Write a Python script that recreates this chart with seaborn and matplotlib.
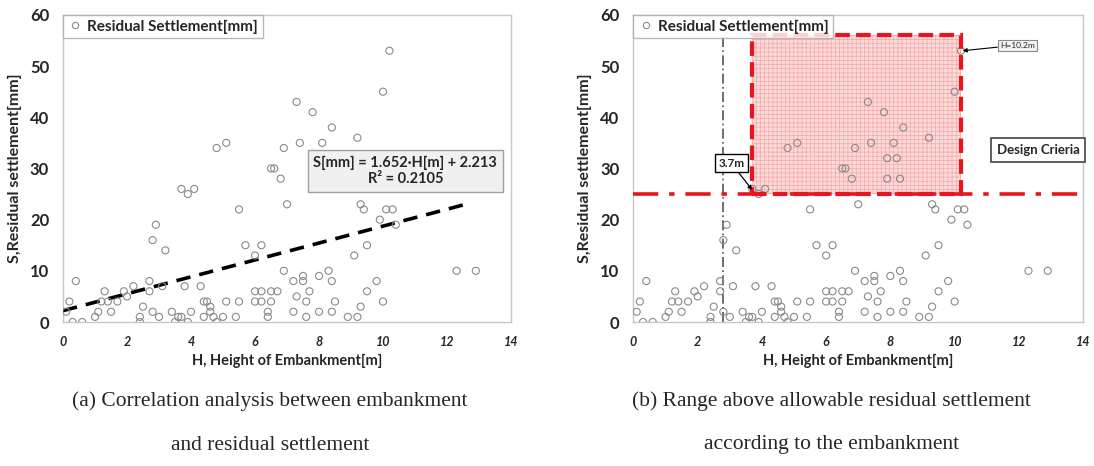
import numpy as np
import pandas as pd
import matplotlib
matplotlib.use("Agg")
import matplotlib.pyplot as plt
from matplotlib.patches import Rectangle
from matplotlib.lines import Line2D
import seaborn as sns

# embankment height [m] / residual settlement [mm]
HEIGHT = [0.1, 0.2, 0.3, 0.4, 0.6, 1.0, 1.1, 1.2, 1.3, 1.4, 1.5, 1.7, 1.9, 2.0, 2.2,
          2.4, 2.4, 2.5, 2.7, 2.7, 2.8, 2.8, 2.9, 3.0, 3.1, 3.2, 3.4, 3.5, 3.6, 3.7,
          3.7, 3.8, 3.9, 3.9, 4.0, 4.1, 4.3, 4.4, 4.4, 4.5, 4.6, 4.6, 4.7, 4.8, 4.8,
          5.0, 5.1, 5.1, 5.4, 5.5, 5.5, 5.7,
          6.0, 6.0, 6.0, 6.2, 6.2, 6.2, 6.4, 6.4, 6.5, 6.5, 6.7, 6.5, 6.6, 6.8,
          6.9, 6.9, 7.0, 7.2, 7.2, 7.3, 7.3, 7.4, 7.5, 7.5, 7.6, 7.6, 7.7, 7.8,
          7.9, 7.9, 8.0, 8.0, 8.1, 8.2, 8.3, 8.3, 8.4, 8.4, 8.4, 8.5, 8.9, 9.1,
          9.2, 9.2, 9.3, 9.4, 9.3, 9.5, 9.5, 9.8, 9.9, 10.0, 10.0, 10.1, 10.3,
          10.2, 10.4, 12.3, 12.9]
SETTLE = [2, 4, 0, 8, 0, 1, 2, 4, 6, 4, 2, 4, 6, 5, 7,
          1, 0, 3, 8, 6, 16, 2, 19, 1, 7, 14, 2, 0, 1, 1,
          26, 7, 25, 0, 2, 26, 7, 4, 1, 4, 3, 2, 1, 0, 34,
          1, 4, 35, 1, 4, 22, 15,
          13, 6, 4, 6, 4, 15, 2, 1, 6, 4, 6, 30, 30, 28,
          34, 10, 23, 8, 2, 5, 43, 35, 9, 8, 4, 1, 6, 41,
          32, 28, 9, 2, 35, 32, 10, 28, 8, 2, 38, 4, 1, 13,
          1, 36, 23, 22, 3, 6, 15, 8, 20, 45, 4, 22, 22,
          53, 19, 10, 10]

# linear trend (Excel)
SLOPE = 1.652
INTERCEPT = 2.213
R2 = 0.2105
TREND_X = [0.0, 12.7]

# design criteria
S_ALLOW = 25
H_LOW = 3.7
H_HIGH = 10.2
S_TOP = 56
H_REF = 2.8

X_TICKS = list(range(0, 15, 2))
Y_TICKS = list(range(0, 61, 10))

df = pd.DataFrame({"H": HEIGHT, "S": SETTLE})
trend = pd.DataFrame({"H": TREND_X})
trend["S"] = SLOPE * trend["H"] + INTERCEPT

sns.set_style("white")
plt.rcParams["font.family"] = ["Lato", "DejaVu Sans"]
plt.rcParams["hatch.linewidth"] = 0.5

fig = plt.figure(figsize=(10.94, 4.66), dpi=100)
ax1 = fig.add_axes([0.0576, 0.309, 0.4095, 0.659])
ax2 = fig.add_axes([0.579, 0.309, 0.411, 0.659])

GRAY = "#c8c8c8"


def style_axis(ax):
    sns.scatterplot(data=df, x="H", y="S", ax=ax, marker="o", s=26,
                    facecolors="none", edgecolor="#8a8a8a", linewidth=0.8,
                    zorder=4, legend=False)
    ax.set_xlim(0, 14)
    ax.set_ylim(0, 60)
    ax.set_xticks(X_TICKS)
    ax.set_yticks(Y_TICKS)
    ax.set_yticks(range(5, 60, 10), minor=True)
    ax.set_xticklabels([str(t) for t in X_TICKS], fontsize=9,
                       fontweight="bold", fontstyle="italic")
    ax.set_yticklabels([str(t) for t in Y_TICKS], fontsize=12, fontweight="bold")
    ax.tick_params(axis="both", which="both", direction="out", color=GRAY,
                   length=4, width=1, pad=6)
    ax.tick_params(axis="y", which="minor", length=3)
    for sp in ax.spines.values():
        sp.set_color(GRAY)
        sp.set_linewidth(1)
    ax.set_xlabel("H, Height of Embankment[m]", fontsize=10.5, fontweight="bold",
                  labelpad=4)
    ax.set_ylabel("S,Residual settlement[mm]", fontsize=11.5, fontweight="bold",
                  labelpad=6)
    handle = Line2D([], [], marker="o", linestyle="none", markersize=4.5,
                    markerfacecolor="none", markeredgecolor="#8a8a8a",
                    markeredgewidth=0.8)
    leg = ax.legend([handle], ["Residual Settlement[mm]"], loc="upper left",
                    borderaxespad=0.0, fancybox=False, handletextpad=0.3,
                    handlelength=1.0, borderpad=0.3,
                    prop={"weight": "bold", "size": 11})
    leg.get_frame().set_edgecolor("#a8a8a8")
    leg.get_frame().set_linewidth(1)
    leg.set_zorder(6)


# (a) correlation
style_axis(ax1)
sns.lineplot(data=trend, x="H", y="S", ax=ax1, color="black", lw=2.6,
             linestyle=(0, (4, 2.5)), zorder=3)
ax1.set_xlabel("H, Height of Embankment[m]", fontsize=10.5, fontweight="bold", labelpad=4)
ax1.set_ylabel("S,Residual settlement[mm]", fontsize=11.5, fontweight="bold", labelpad=6)
ax1.text(10.7, 29.5, f"S[mm] = {SLOPE:.3f}\u00b7H[m] + {INTERCEPT:.3f}\nR\u00b2 = {R2:.4f}",
         ha="center", va="center", fontsize=10.5, fontweight="bold",
         linespacing=1.2, zorder=7,
         bbox=dict(boxstyle="square,pad=0.4", facecolor="#f0f0f0",
                   edgecolor="#a0a0a0", linewidth=1))

# (b) range above allowable settlement
style_axis(ax2)
ax2.add_patch(Rectangle((H_LOW, S_ALLOW), H_HIGH - H_LOW, S_TOP - S_ALLOW,
                        facecolor="#fddada", edgecolor="#f4a8a8", hatch="++++",
                        linewidth=0, zorder=1))
ax2.add_patch(Rectangle((H_LOW, S_ALLOW), H_HIGH - H_LOW, S_TOP - S_ALLOW,
                        facecolor="none", edgecolor="#e8141e", linewidth=3,
                        linestyle=(0, (3.5, 1.5)), zorder=5))
ax2.axhline(S_ALLOW, color="#e8141e", lw=2.6, linestyle=(0, (7, 3, 1.5, 3)), zorder=5)
ax2.plot([H_REF, H_REF], [0, S_TOP], color="#555555", lw=1.2,
         linestyle=(0, (6, 2, 1, 2)), zorder=2)
ax2.annotate(f"{H_LOW}m", xy=(H_LOW, S_ALLOW + 0.8), xytext=(3.05, 31),
             ha="center", va="center", fontsize=8.5, fontweight="bold", zorder=7,
             bbox=dict(boxstyle="square,pad=0.3", facecolor="white",
                       edgecolor="black", linewidth=1),
             arrowprops=dict(arrowstyle="-|>", color="black", lw=0.9,
                             mutation_scale=6, shrinkA=0, shrinkB=0))
ax2.annotate(f"H={H_HIGH}m", xy=(H_HIGH + 0.05, 53), xytext=(11.95, 54.1),
             ha="center", va="center", fontsize=6, zorder=7,
             bbox=dict(boxstyle="square,pad=0.25", facecolor="#f2f2f2",
                       edgecolor="#8a8a8a", linewidth=0.8),
             arrowprops=dict(arrowstyle="-|>", color="black", lw=0.8,
                             mutation_scale=6, shrinkA=0, shrinkB=0))
ax2.text(12.6, 33.6, "Design Crieria", ha="center", va="center", fontsize=9.5,
         fontweight="bold", zorder=7,
         bbox=dict(boxstyle="square,pad=0.45", facecolor="white",
                   edgecolor="#444444", linewidth=1.2))

cap = dict(ha="center", va="center", fontsize=15.5, family="Liberation Serif")
fig.text(0.247, 1 - 401 / 466, "(a) Correlation analysis between embankment", **cap)
fig.text(0.247, 1 - 445 / 466, "and residual settlement", **cap)
fig.text(0.760, 1 - 401 / 466, "(b) Range above allowable residual settlement", **cap)
fig.text(0.760, 1 - 445 / 466, "according to the embankment", **cap)

fig.savefig("out.png", dpi=100)
plt.close(fig)
